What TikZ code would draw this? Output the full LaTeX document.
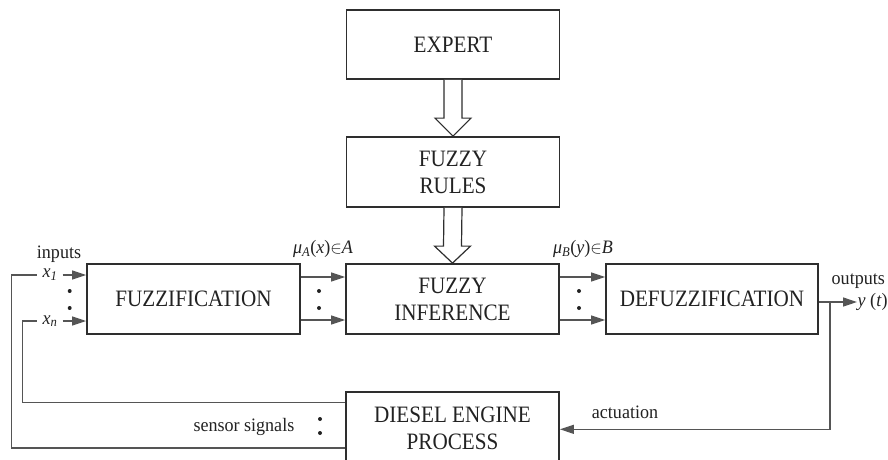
\documentclass[tikz,border=0pt]{standalone}
\usepackage{fontspec}
\setmainfont{Liberation Serif}
\newfontfamily\blockfont[FakeStretch=0.9]{Liberation Serif}
\newfontfamily\lblfont[FakeStretch=0.95]{Liberation Serif}
\usetikzlibrary{arrows.meta,calc}
\definecolor{ink}{HTML}{222222}
\definecolor{boxline}{HTML}{2E2E2E}
\definecolor{wire}{HTML}{555555}
\tikzset{
  block/.style={draw=boxline, line width=1.8pt, minimum width=213pt, minimum height=70pt,
    align=center, text=ink, font=\blockfont\fontsize{23.5}{27}\selectfont, inner sep=0pt},
  lbl/.style={text=ink, font=\lblfont\fontsize{19}{20}\selectfont, inner sep=0.5pt},
  wireline/.style={draw=wire, line width=1.3pt},
  arr/.style={wireline, -{Triangle[length=14pt,width=9pt]}},
  hollow/.style={draw=boxline, line width=1.2pt, fill=white, line join=miter},
  dotmark/.style={fill=ink}
}
\begin{document}
\begin{tikzpicture}[x=1pt, y=-1pt]
\useasboundingbox (0,0) rectangle (888,459);

% blocks
\node[block, minimum height=69pt] (expert) at (453,44.5) {EXPERT};
\node[block] (rules)  at (453,172) {FUZZY\\RULES};
\node[block] (fuzz)   at (193.5,299) {FUZZIFICATION};
\node[block] (infer)  at (452.5,299) {FUZZY\\INFERENCE};
\node[block, minimum width=212pt] (defuzz) at (712,299) {DEFUZZIFICATION};
\node[block, minimum height=72pt] (diesel) at (452.5,428) {DIESEL ENGINE\\PROCESS};

% hollow arrows: expert -> rules -> inference
\draw[hollow] ($(expert.south)+(-9,0)$) -- ($(rules.north)+(-9,-18)$) -- ($(rules.north)+(-18,-18)$)
  -- (rules.north) -- ($(rules.north)+(18,-18)$) -- ($(rules.north)+(9,-18)$) -- ($(expert.south)+(9,0)$);
\draw[hollow] ($(rules.south)+(-9,0)$) -- ($(infer.north)+(-9,-17)$) -- ($(infer.north)+(-18,-17)$)
  -- (infer.north) -- ($(infer.north)+(18,-17)$) -- ($(infer.north)+(9,-17)$) -- ($(rules.south)+(9,0)$);

% signal rows between blocks
\coordinate (r1) at (0,277);
\coordinate (r2) at (0,320);
\draw[arr] (fuzz.east |- r1) -- (infer.west |- r1);
\draw[arr] (fuzz.east |- r2) -- (infer.west |- r2);
\draw[arr] (infer.east |- r1) -- (defuzz.west |- r1);
\draw[arr] (infer.east |- r2) -- (defuzz.west |- r2);

% inputs
\node[lbl] (inputs) at (59,254) {inputs};
\node[lbl, inner xsep=5pt] (x1) at (50,275) {\textit{x}\textsubscript{\textit{1}}};
\node[lbl, inner xsep=5pt] (xn) at (50,321) {\textit{x}\textsubscript{\textit{n}}};
\draw[arr] (x1.east) -- (fuzz.west |- x1);
\draw[arr] (xn.east) -- (fuzz.west |- xn);

% membership labels
\node[lbl] (muA) at (323,249) {\textit{μ}\textsubscript{\textit{A}}(\textit{x})$\in$\textit{A}};
\node[lbl] (muB) at (583,249) {\textit{μ}\textsubscript{\textit{B}}(\textit{y})$\in$\textit{B}};

% vertical ellipsis dots
\foreach \x in {69.7,319,579} {
  \fill[dotmark] (\x,291) circle (2pt);
  \fill[dotmark] (\x,308) circle (2pt);
}
\fill[dotmark] (320,419) circle (2pt);
\fill[dotmark] (320,433) circle (2pt);

% outputs
\node[lbl, anchor=west] (outputs) at (831,281) {outputs};
\node[lbl, anchor=west] (yt) at (857,302) {\textit{y} (\textit{t})};
\coordinate (tap) at (830,302);
\draw[arr] (defuzz.east |- tap) -- (yt.west |- tap);

% actuation back to the engine
\coordinate (act) at (830,429.3);
\draw[arr] (tap) -- (act) -- (diesel.east |- act);
\node[lbl] (actuation) at (625,412) {actuation};

% sensor feedback to the inputs
\coordinate (fbo) at (11.7,448);
\coordinate (fbi) at (22.7,402.7);
\draw[wireline] (diesel.west |- fbo) -- (fbo) |- (x1.west);
\draw[wireline] (diesel.west |- fbi) -- (fbi) |- (xn.west);
\node[lbl, anchor=east] (sensor) at (295,427) {sensor signals};
\end{tikzpicture}
\end{document}
